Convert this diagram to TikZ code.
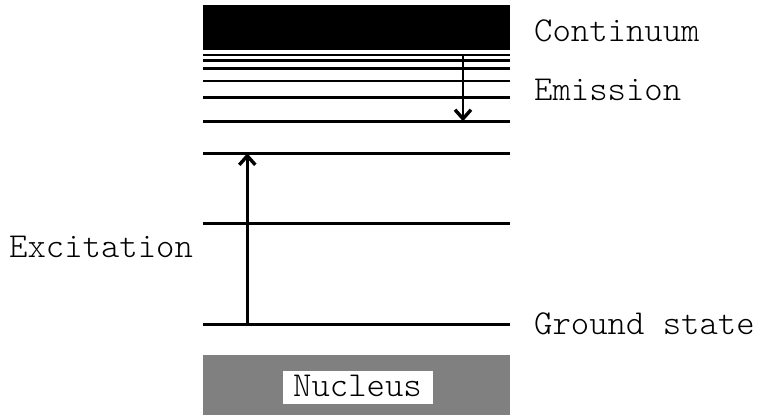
\documentclass[tikz,border=0pt]{standalone}
\usepackage{fontspec}
\setmonofont{Latin Modern Mono Light}
\usetikzlibrary{arrows.meta}
\definecolor{nucleusgray}{RGB}{128,128,128}
\begin{document}
\begin{tikzpicture}[x=1pt,y=-1pt,
  level/.style={line width=2.6pt},
  transition/.style={line width=2.6pt,-{Straight Barb[length=9pt,width=16pt,line width=3.4pt]}},
  label/.style={inner sep=0pt,anchor=base west,font=\ttfamily\fontsize{35}{40}\selectfont}]
  \useasboundingbox (0,0) rectangle (758,416);
  % continuum band
  \fill[black] (203,5) rectangle (510,50);
  % energy levels
  \foreach \y in {55,60.3,68.3,81,97.3,121.3,153.3,223.3,324.3}
    \draw[level] (203,\y) -- (510,\y);
  % nucleus
  \fill[nucleusgray] (203,355) rectangle (510,415);
  \node[fill=white,inner sep=0pt,minimum width=150pt,minimum height=33pt] (nucbox) at (358,387.5) {};
  \node[label,anchor=base] (nuc) at (357.5,396.7) {Nucleus};
  % transitions
  \coordinate (emTop) at (463,56);
  \coordinate (emBot) at (463,121.3);
  \coordinate (exBot) at (247.3,324.3);
  \coordinate (exTop) at (247.3,153.3);
  \draw[transition] (emTop) -- (emBot);
  \draw[transition] (exBot) -- (exTop);
  % labels
  \node[label] (cont) at (534,41.7) {Continuum};
  \node[label] (emis) at (534,100) {Emission};
  \node[label] (exc) at (9,257) {Excitation};
  \node[label] (gnd) at (534,334) {Ground state};
\end{tikzpicture}
\end{document}
